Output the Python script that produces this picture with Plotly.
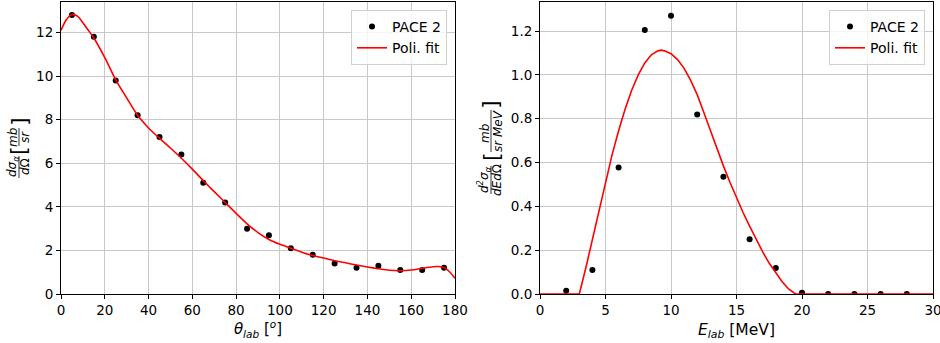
import plotly.graph_objects as go

# ---- Angular distribution (PACE 2) ----
theta_lab = [5, 15, 25, 35, 45, 55, 65, 75, 85, 95, 105, 115, 125, 135, 145, 155, 165, 175]
dsig_domega = [12.8, 11.8, 9.8, 8.2, 7.2, 6.4, 5.1, 4.2, 3.0, 2.7, 2.1, 1.8, 1.4, 1.2, 1.3, 1.1, 1.1, 1.2]

# polynomial fit, sampled along theta
fit_theta = [0, 2.5, 5, 7.5, 10, 12.5, 15, 20, 25, 30, 35, 40, 45, 50, 55, 60, 65, 70, 75, 80,
             85, 90, 95, 100, 105, 110, 115, 120, 125, 130, 135, 140, 145, 150, 155, 160, 165,
             170, 172.5, 175, 177.5, 180]
fit_dsig = [12.1, 12.6, 12.83, 12.75, 12.45, 12.1, 11.75, 10.85, 9.83, 9.0, 8.2, 7.62, 7.15, 6.7,
            6.23, 5.73, 5.2, 4.7, 4.2, 3.7, 3.22, 2.82, 2.5, 2.28, 2.1, 1.92, 1.77, 1.65, 1.53,
            1.43, 1.33, 1.24, 1.16, 1.09, 1.07, 1.1, 1.18, 1.25, 1.26, 1.21, 1.02, 0.72]

# ---- Energy spectrum (PACE 2) ----
e_lab = [2, 4, 6, 8, 10, 12, 14, 16, 18, 20, 22, 24, 26, 28]
d2sig = [0.015, 0.11, 0.578, 1.205, 1.27, 0.82, 0.535, 0.25, 0.119, 0.006, 0.0, 0.0, 0.0, 0.0]

# polynomial fit (clipped at zero), sampled along E
fit_e = [0, 1, 2, 3, 3.5, 4, 4.5, 5, 5.5, 6, 6.5, 7, 7.5, 8, 8.5, 9, 9.25, 9.5, 10, 10.5, 11,
         11.5, 12, 12.5, 13, 13.5, 14, 14.5, 15, 15.5, 16, 16.5, 17, 17.5, 18, 18.5, 19, 19.5,
         20, 25, 30]
fit_d2sig = [0, 0, 0, 0, 0.12, 0.25, 0.385, 0.515, 0.635, 0.745, 0.845, 0.93, 1.0, 1.055, 1.092,
             1.11, 1.113, 1.11, 1.097, 1.07, 1.03, 0.975, 0.91, 0.83, 0.745, 0.665, 0.585,
             0.51, 0.44, 0.372, 0.31, 0.25, 0.192, 0.14, 0.095, 0.055, 0.022, 0.0, 0, 0, 0]

x1_ticks = list(range(0, 181, 20))
y1_ticks = list(range(0, 13, 2))
x2_ticks = list(range(0, 31, 5))
y2_ticks = [0.0, 0.2, 0.4, 0.6, 0.8, 1.0, 1.2]

W, H = 940, 343
ML, MR, MT, MB = 61, 7, 2, 49
PW, PH = W - ML - MR, H - MT - MB
FONT = "DejaVu Sans"


def paper(px, py):
    """Pixel position -> paper coordinates."""
    return (px - ML) / PW, (H - MB - py) / PH


fig = go.Figure()

fig.add_trace(go.Scatter(x=theta_lab, y=dsig_domega, mode="markers", name="PACE 2",
                         marker=dict(color="black", size=6), xaxis="x", yaxis="y",
                         legend="legend"))
fig.add_trace(go.Scatter(x=fit_theta, y=fit_dsig, mode="lines", name="Poli. fit",
                         line=dict(color="red", width=1.6, shape="spline", smoothing=0.8),
                         xaxis="x", yaxis="y", legend="legend"))
fig.add_trace(go.Scatter(x=e_lab, y=d2sig, mode="markers", name="PACE 2",
                         marker=dict(color="black", size=6), xaxis="x2", yaxis="y2",
                         legend="legend2"))
fig.add_trace(go.Scatter(x=fit_e, y=fit_d2sig, mode="lines", name="Poli. fit",
                         line=dict(color="red", width=1.6), cliponaxis=False,
                         xaxis="x2", yaxis="y2", legend="legend2"))

axis_common = dict(showline=True, linecolor="black", linewidth=1, mirror=True,
                   ticks="outside", ticklen=4, tickwidth=1, tickcolor="black",
                   showgrid=True, gridcolor="#c8c8c8", gridwidth=1, zeroline=False,
                   automargin=False, ticklabeloverflow="allow",
                   tickfont=dict(family=FONT, size=13.5, color="black"))

x_left_end = (455 - ML) / PW
x_right_start = (540 - ML) / PW
x_right_end = (933 - ML) / PW

fig.update_layout(
    width=W, height=H,
    margin=dict(l=ML, r=MR, t=MT, b=MB),
    paper_bgcolor="white", plot_bgcolor="white",
    font=dict(family=FONT, color="black"),
    xaxis=dict(domain=[0, x_left_end], range=[0, 180], tickvals=x1_ticks, anchor="y",
               title=dict(text="<i>θ<sub>lab</sub></i> [<sup><i>o</i></sup>]",
                          font=dict(family=FONT, size=15), standoff=6),
               **axis_common),
    yaxis=dict(domain=[0, 1], range=[0, 13.4], tickvals=y1_ticks, anchor="x", **axis_common),
    xaxis2=dict(domain=[x_right_start, x_right_end], range=[0, 30], tickvals=x2_ticks,
                anchor="y2",
                title=dict(text="<i>E<sub>lab</sub></i> [MeV]",
                           font=dict(family=FONT, size=15.5), standoff=6),
                layer="below traces", **axis_common),
    yaxis2=dict(domain=[0, 1], range=[0, 1.333], tickvals=y2_ticks, tickformat=".1f",
                anchor="x2", layer="below traces", **axis_common),
    legend=dict(x=paper(447, 0)[0], y=paper(0, 10)[1], xanchor="right", yanchor="top",
                bgcolor="rgba(255,255,255,0.8)", bordercolor="#d0d0d0", borderwidth=1,
                font=dict(family=FONT, size=14), tracegroupgap=0),
    legend2=dict(x=paper(925, 0)[0], y=paper(0, 10)[1], xanchor="right", yanchor="top",
                 bgcolor="rgba(255,255,255,0.8)", bordercolor="#d0d0d0", borderwidth=1,
                 font=dict(family=FONT, size=14), tracegroupgap=0),
    showlegend=True,
)


def label(text, px, py, size=12):
    x, y = paper(px, py)
    fig.add_annotation(text=text, x=x, y=y, xref="paper", yref="paper", showarrow=False,
                       textangle=-90, xanchor="center", yanchor="middle",
                       font=dict(family=FONT, size=size, color="black"))


def bar(px, py0, py1):
    x, y0 = paper(px, py0)
    _, y1 = paper(px, py1)
    fig.add_shape(type="line", xref="paper", yref="paper", x0=x, x1=x, y0=y0, y1=y1,
                  line=dict(color="black", width=0.8))


# vertical axis label, left panel: dσα/dΩ [mb/sr]
label("<i>dσ<sub>α</sub></i>", 13, 167)
label("<i>d</i>Ω", 25, 167)
bar(19, 156, 178)
label("[", 19, 151, size=22)
label("<i>mb</i>", 13, 137)
label("<i>sr</i>", 25, 137)
bar(19, 128, 146)
label("]", 19, 122, size=22)

# vertical axis label, right panel: d²σα/dEdΩ [mb/(sr MeV)]
label("<i>d<sup>2</sup>σ<sub>α</sub></i>", 484, 180)
label("<i>dEd</i>Ω", 497, 180)
bar(491, 166, 194)
label("[", 491, 157, size=22)
label("<i>mb</i>", 485, 133)
label("<i>sr MeV</i>", 498, 131)
bar(491, 110, 152)
label("]", 491, 105, size=22)

fig.write_html("out.html")
